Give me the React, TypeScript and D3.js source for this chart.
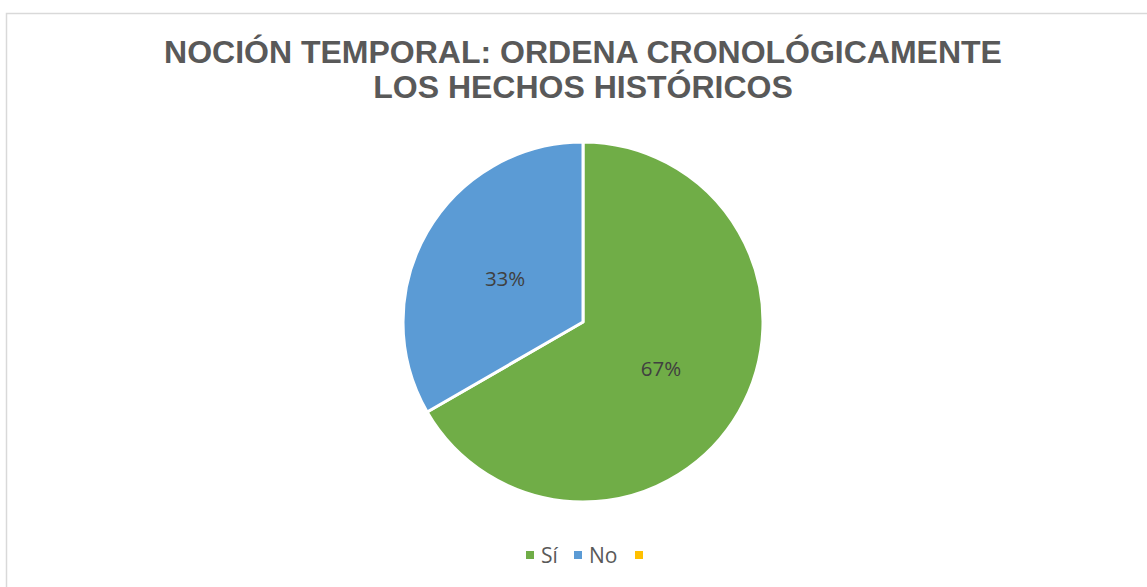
import React from "react";
import * as d3 from "d3";

const titleLines = ["NOCIÓN TEMPORAL: ORDENA CRONOLÓGICAMENTE", "LOS HECHOS HISTÓRICOS"];
const categories = ["Sí", "No", ""];
const values = [2, 1, 0];
const colors = ["#70AD47", "#5B9BD5", "#FFC000"];

export default function App() {
  const W = 1147, H = 587;
  const cx = 583, cy = 322, r = 180;
  const total = d3.sum(values);
  const pie = d3.pie<number>().sort(null).value((d) => d);
  const arcs = pie(values);
  const arc = d3.arc<d3.PieArcDatum<number>>().innerRadius(0).outerRadius(r);
  const labelArc = d3.arc<d3.PieArcDatum<number>>().innerRadius(r * 0.5).outerRadius(r * 0.5);
  const fmt = d3.format(".0%");

  const legendItems = [
    { x: 526, tx: 541 },
    { x: 574, tx: 589 },
    { x: 635, tx: 650 },
  ];

  return (
    <svg width={W} height={H} style={{ position: "absolute", left: 0, top: 0, background: "#fff" }}
      fontFamily="'Liberation Sans', Arial, sans-serif">
      <rect x={6.5} y={13.5} width={1150} height={600} fill="#fff" stroke="#D9D9D9" strokeWidth={1.5} />
      {titleLines.map((t, i) => (
        <text key={i} x={583} y={63 + i * 35} textAnchor="middle" fontSize={32} fontWeight="bold" fill="#595959">
          {t}
        </text>
      ))}
      <g transform={`translate(${cx},${cy})`}>
        {arcs.map((a, i) =>
          a.value > 0 ? (
            <path key={i} d={arc(a) || ""} fill={colors[i]} stroke="#fff" strokeWidth={3} strokeLinejoin="round" />
          ) : null
        )}
        {arcs.map((a, i) => {
          if (a.value <= 0) return null;
          const [lx, ly] = labelArc.centroid(a);
          return (
            <text key={"l" + i} x={lx} y={ly + 2} dy="0.35em" textAnchor="middle" fontSize={20.5}
              fontFamily="'Open Sans', sans-serif" fill="#404040">
              {fmt(a.value / total)}
            </text>
          );
        })}
      </g>
      {categories.map((c, i) => (
        <g key={"lg" + i}>
          <rect x={legendItems[i].x} y={551} width={8} height={8} fill={colors[i]} />
          <text x={legendItems[i].tx} y={563} fontSize={21} fontFamily="'Open Sans', sans-serif" fill="#595959">
            {c}
          </text>
        </g>
      ))}
    </svg>
  );
}
